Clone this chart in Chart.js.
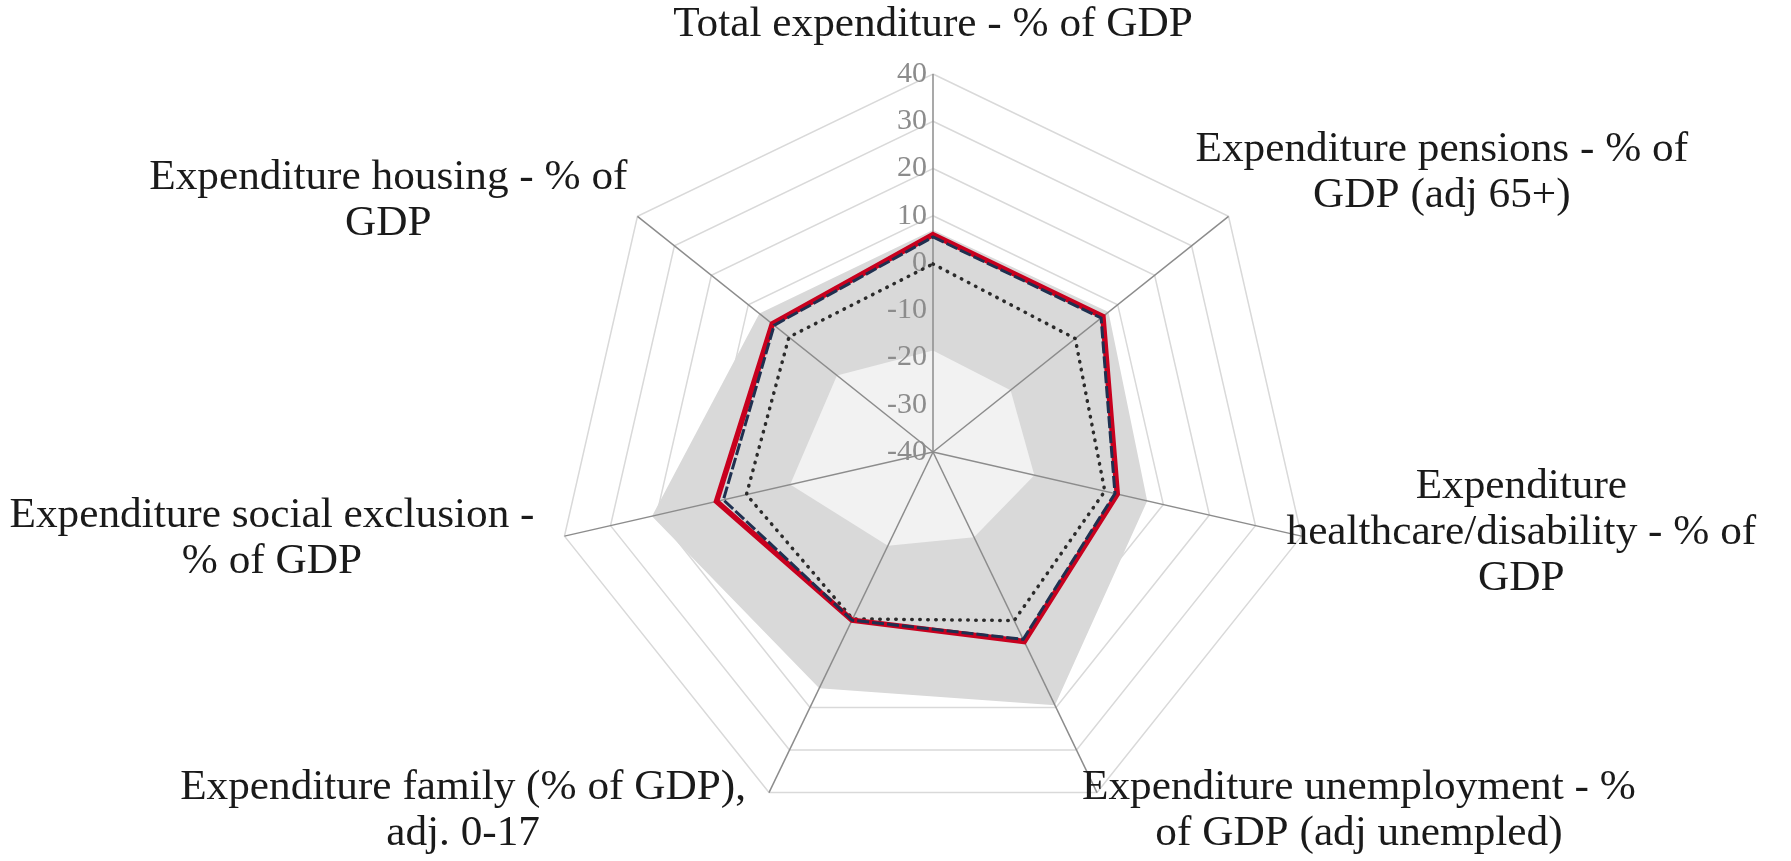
<!DOCTYPE html>
<html>
<head>
<meta charset="utf-8">
<script src="https://cdn.jsdelivr.net/npm/chart.js@4.4.0/dist/chart.umd.min.js"></script>
<style>
  html, body { margin: 0; padding: 0; background: #fff; }
  #wrap { width: 1791px; height: 861px; }
</style>
</head>
<body>
<div id="wrap"><canvas id="myChart" width="1791" height="861"></canvas></div>
<script>
const categories = [
  "Total expenditure - % of GDP",
  ["Expenditure pensions - % of", "GDP (adj 65+)"],
  ["Expenditure", "healthcare/disability - % of", "GDP"],
  ["Expenditure unemployment - %", "of GDP (adj unempled)"],
  ["Expenditure family (% of GDP),", "adj. 0-17"],
  ["Expenditure social exclusion -", "% of GDP"],
  ["Expenditure housing - % of", "GDP"],
];

const scaleMin = -40;
const scaleMax = 40;
const scaleStep = 10;

// grey band: upper and lower edge
const bandHigh = [7, 7.5, 6.5, 19.5, 15.5, 21, 7];
const bandLow = [-18.5, -19, -18, -20, -18, -9, -14];

const redSeries = [6, 6, 0, 4.5, -0.5, 7, 3.5];
const blueSeries = [5.5, 5.5, -0.5, 4, -0.5, 5.5, 3];
const dottedSeries = [-0.2, -1.5, -2.7, -0.4, -0.8, 0.5, -1];

const tickFont = "30px 'Liberation Serif'";
const labelFont = "42px 'Liberation Serif'";
const labelLineHeight = 46;
const labelStretch = 1.03;
// small per-label shifts (px) so the text sits like the original layout
const labelNudge = [[0, 0], [-18, -31], [0, -8], [0, 0], [-38, 0], [-45, -2], [-25, -3]];

// angle lines + tick labels go above the grey fills but under the lines
const radarDecor = {
  id: "radarDecor",
  afterDatasetDraw(chart, args) {
    if (args.index !== 3) return;
    const scale = chart.scales.r;
    const ctx = chart.ctx;
    ctx.save();
    ctx.strokeStyle = "#8c8c8c";
    ctx.lineWidth = 1.5;
    categories.forEach((c, i) => {
      const p = scale.getPointPosition(i, scale.drawingArea);
      ctx.beginPath();
      ctx.moveTo(scale.xCenter, scale.yCenter);
      ctx.lineTo(p.x, p.y);
      ctx.stroke();
    });
    ctx.font = tickFont;
    ctx.fillStyle = "#8c8c8c";
    ctx.textAlign = "right";
    ctx.textBaseline = "middle";
    scale.ticks.forEach((t) => {
      const y = scale.yCenter - scale.getDistanceFromCenterForValue(t.value);
      ctx.fillText(t.label, scale.xCenter - 6, y);
    });
    ctx.restore();
  },
  afterDraw(chart) {
    const scale = chart.scales.r;
    const ctx = chart.ctx;
    ctx.save();
    ctx.font = labelFont;
    ctx.fillStyle = "#1a1a1a";
    ctx.textAlign = "center";
    ctx.textBaseline = "middle";
    categories.forEach((lab, i) => {
      const lines = Array.isArray(lab) ? lab : [lab];
      const p = scale.getPointPosition(i, scale.drawingArea);
      const w = Math.max(...lines.map((l) => ctx.measureText(l).width)) * labelStretch;
      const h = lines.length * labelLineHeight;
      const c = Math.cos(p.angle);
      const s = Math.sin(p.angle);
      let cx, cy;
      if (Math.abs(c) < 0.01) {
        cx = p.x;
        cy = p.y - 28 - h / 2;
      } else {
        cx = p.x + Math.sign(c) * (w / 2 - 15);
        cy = p.y + s * 20;
      }
      cx += labelNudge[i][0];
      cy += labelNudge[i][1];
      cy = Math.min(Math.max(cy, h / 2 + 2), chart.height - h / 2 - 2);
      lines.forEach((l, k) => {
        ctx.save();
        ctx.translate(cx, cy - h / 2 + labelLineHeight * (k + 0.5));
        ctx.scale(labelStretch, 1);
        ctx.fillText(l, 0, 0);
        ctx.restore();
      });
    });
    ctx.restore();
  },
};

const ctx = document.getElementById("myChart");

new Chart(ctx, {
  type: "radar",
  data: {
    labels: categories,
    datasets: [
      {
        label: "blue",
        data: blueSeries,
        borderColor: "#1f3050",
        borderWidth: 3,
        borderDash: [12, 3],
        fill: false,
      },
      {
        label: "red",
        data: redSeries,
        borderColor: "#c8001e",
        borderWidth: 5.5,
        fill: false,
      },
      {
        label: "dotted",
        data: dottedSeries,
        borderColor: "#2b2b2b",
        borderWidth: 3.5,
        borderDash: [0.5, 7.5],
        borderCapStyle: "round",
        fill: false,
      },
      {
        label: "low",
        data: bandLow,
        borderColor: "transparent",
        backgroundColor: "#f2f2f2",
        fill: "start",
      },
      {
        label: "high",
        data: bandHigh,
        borderColor: "transparent",
        backgroundColor: "#d9d9d9",
        fill: "start",
      },
    ],
  },
  options: {
    responsive: false,
    animation: false,
    layout: { padding: { top: 74, bottom: 31, left: 300, right: 225 } },
    elements: { point: { radius: 0, hoverRadius: 0 }, line: { tension: 0 } },
    plugins: {
      legend: { display: false },
      tooltip: { enabled: false },
    },
    scales: {
      r: {
        min: scaleMin,
        max: scaleMax,
        ticks: { stepSize: scaleStep, display: false },
        grid: { color: "#d9d9d9", lineWidth: 1.5 },
        angleLines: { display: false },
        pointLabels: { display: false },
      },
    },
  },
  plugins: [radarDecor],
});
</script>
</body>
</html>
